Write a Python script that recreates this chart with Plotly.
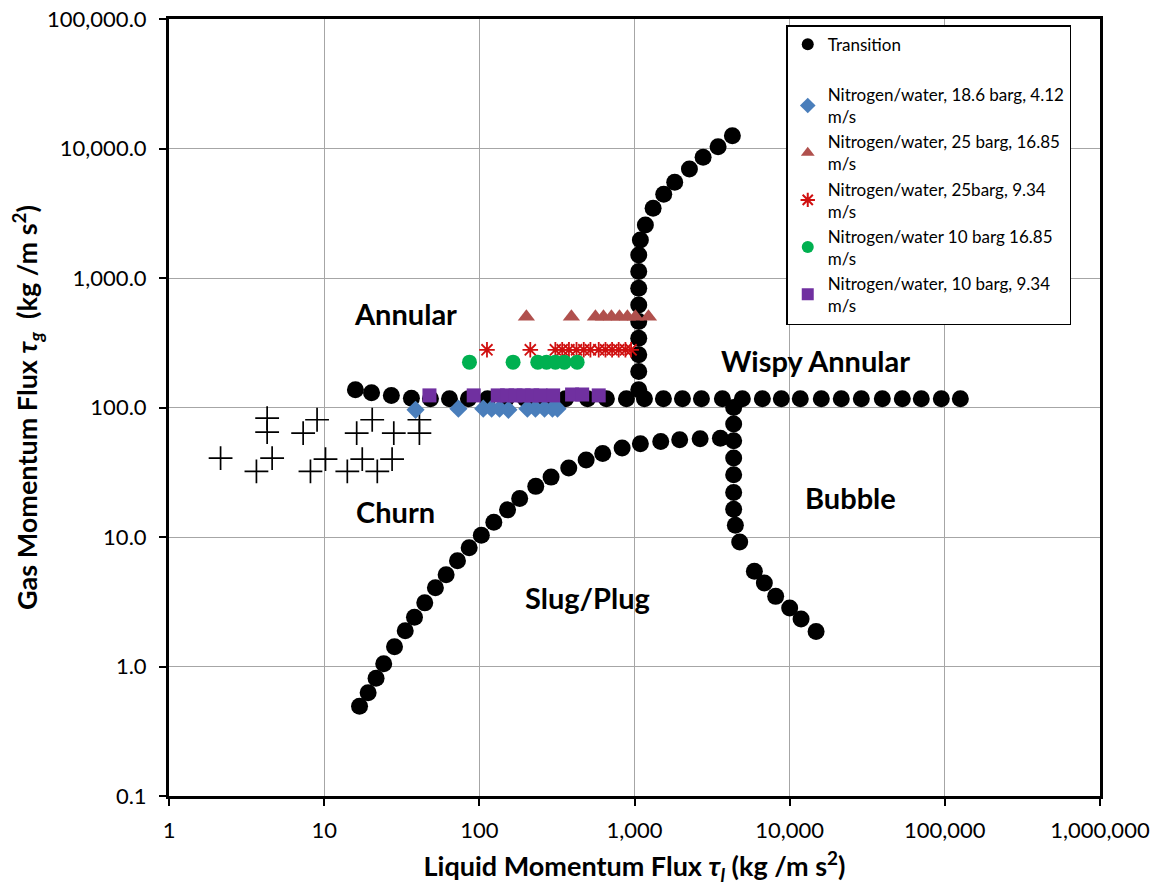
import math
import plotly.graph_objects as go

# ---------------- data ----------------
# Transition boundary points (liquid momentum flux, gas momentum flux)
trans_x = [
    # Annular / Churn / Wispy horizontal boundary
    15.9, 20.2, 27.1, 36.5, 48.4, 64.2, 85.1, 113, 149, 198, 267, 359, 498, 659, 887,
    1159, 1536, 2037, 2700, 3685, 4955, 6668, 8836, 11705, 15990, 21510, 28960, 39540,
    53200, 70500, 94900, 125900,
    # Annular / Wispy annular vertical boundary
    1065, 1065, 1065, 1065, 1065, 1065, 1065, 1065, 1065,
    1091, 1175, 1318, 1543, 1816, 2259, 2768, 3457, 4273,
    # Churn / Slug-Plug boundary
    16.9, 19.2, 21.6, 24.2, 28.4, 33.3, 38.2, 44.5, 52.1, 61.1, 72.3, 86.0, 103, 124,
    152, 182, 231, 290, 377, 488, 624, 832, 1091, 1476, 1955, 2648, 3578,
    # Slug-Plug / Bubble boundary
    4356, 4356, 4356, 4356, 4356, 4356, 4356, 4467, 4764, 5923, 6868, 8126, 10000,
    11845, 14800,
]
trans_y = [
    137, 130, 124, 118, 117, 117, 117, 117, 117, 117, 117, 117, 117, 117, 117,
    117, 117, 117, 117, 117, 117, 117, 117, 117, 117, 117, 117, 117,
    117, 117, 117, 117,
    137, 190, 255, 343, 461, 620, 834, 1121, 1508,
    1968, 2569, 3456, 4432, 5486, 6947, 8553, 10320, 12555,
    0.493, 0.626, 0.811, 1.05, 1.42, 1.89, 2.40, 3.10, 4.06, 5.12, 6.56, 8.27, 10.3, 13.0,
    16.2, 19.8, 24.6, 29.0, 34.1, 39.3, 44.2, 48.6, 52.5, 54.7, 56.3, 57.4, 57.9,
    100, 74.5, 55.3, 40.7, 30.2, 22.1, 16.4, 12.3, 9.15, 5.43, 4.42, 3.48, 2.83,
    2.33, 1.86,
]

# Churn data points (plus markers)
churn_x = [4.29, 4.29, 9.0, 7.32, 20.4, 16.2, 28.1, 41.1, 41.1,
           2.15, 3.66, 4.62, 8.16, 10.2, 14.1, 17.6, 22.0, 27.4]
churn_y = [82.8, 64.6, 80.4, 63.5, 80.4, 63.5, 63.5, 80.4, 63.5,
           40.7, 32.1, 40.7, 32.1, 40.0, 32.1, 40.0, 32.1, 40.0]

# Nitrogen/water, 18.6 barg, 4.12 m/s
n186_x = [38.8, 73.3, 106, 120, 135, 154, 204, 230, 263, 296, 319]
n186_y = [96, 98, 98, 98, 98, 96, 98, 98, 98, 98, 98]

# Nitrogen/water, 25 barg, 16.85 m/s
n25a_x = [201, 392, 560, 631, 710, 800, 900, 1014, 1230]
n25a_y = [501, 501, 501, 501, 501, 501, 501, 501, 501]

# Nitrogen/water, 25barg, 9.34 m/s
n25b_x = [112, 213, 309, 342, 378, 423, 471, 520, 588, 650, 717, 791, 874, 951]
n25b_y = [279, 279, 279, 279, 279, 279, 279, 279, 279, 279, 279, 279, 279, 279]

# Nitrogen/water 10 barg 16.85 m/s
n10a_x = [86.4, 165, 238, 271, 309, 353, 427]
n10a_y = [224, 224, 224, 224, 224, 224, 224]

# Nitrogen/water, 10 barg, 9.34 m/s
n10b_x = [47.7, 92, 131.4, 151, 171, 193, 219, 248, 299, 396, 460, 588]
n10b_y = [124, 124, 124, 124, 124, 124, 124, 124, 124, 126, 126, 124]

series_names = [
    "Transition",
    "Nitrogen/water, 18.6 barg, 4.12<br>m/s",
    "Nitrogen/water, 25 barg, 16.85<br>m/s",
    "Nitrogen/water, 25barg, 9.34<br>m/s",
    "Nitrogen/water 10 barg 16.85<br>m/s",
    "Nitrogen/water, 10 barg, 9.34<br>m/s",
]

x_tickvals = [1, 10, 100, 1000, 10000, 100000, 1000000]
x_ticktext = ["1", "10", "100", "1,000", "10,000", "100,000", "1,000,000"]
y_tickvals = [0.1, 1, 10, 100, 1000, 10000, 100000]
y_ticktext = ["0.1", "1.0", "10.0", "100.0", "1,000.0", "10,000.0", "100,000.0"]

region_labels = ["Annular", "Wispy Annular", "Churn", "Slug/Plug", "Bubble"]
region_x = [33.4, 14650, 28.8, 498, 24600]
region_y = [529, 229, 15.7, 3.40, 20.1]

# ---------------- figure ----------------
FONT = "Lato, 'Liberation Sans', Arial, sans-serif"

fig = go.Figure()

fig.add_trace(go.Scatter(
    x=trans_x, y=trans_y, mode="markers", name=series_names[0],
    marker=dict(symbol="circle", size=17, color="black"),
))
# blank legend entry (unnamed series)
fig.add_trace(go.Scatter(
    x=[None], y=[None], mode="markers", name=" ",
    marker=dict(size=1, color="rgba(0,0,0,0)"),
))
fig.add_trace(go.Scatter(
    x=churn_x, y=churn_y, mode="markers", showlegend=False,
    marker=dict(symbol="cross-thin-open", size=17, color="black",
                line=dict(color="black", width=1.7)),
))
fig.add_trace(go.Scatter(
    x=n186_x, y=n186_y, mode="markers", name=series_names[1],
    marker=dict(symbol="diamond", size=14, color="#4a7ebb"),
))
fig.add_trace(go.Scatter(
    x=n25a_x, y=n25a_y, mode="markers", name=series_names[2],
    marker=dict(symbol="triangle-up", size=15, color="#b0504d"),
))
fig.add_trace(go.Scatter(
    x=n25b_x, y=n25b_y, mode="markers", name=series_names[3],
    marker=dict(symbol="asterisk-open", size=13, color="#d01010",
                line=dict(color="#d01010", width=1.8)),
))
fig.add_trace(go.Scatter(
    x=n10a_x, y=n10a_y, mode="markers", name=series_names[4],
    marker=dict(symbol="circle", size=15, color="#00b050"),
))
fig.add_trace(go.Scatter(
    x=n10b_x, y=n10b_y, mode="markers", name=series_names[5],
    marker=dict(symbol="square", size=14, color="#7030a0"),
))

for t, xv, yv in zip(region_labels, region_x, region_y):
    fig.add_annotation(
        x=math.log10(xv), y=math.log10(yv), xref="x", yref="y",
        text="<b>" + t + "</b>", showarrow=False,
        font=dict(family=FONT, size=29, color="black"),
    )

axis_common = dict(
    type="log",
    showline=True, linecolor="black", linewidth=3, mirror=True,
    showgrid=True, gridcolor="#a6a6a6", gridwidth=1.3,
    ticks="outside", ticklen=7, tickcolor="black", tickwidth=1.5,
    zeroline=False,
    tickfont=dict(family=FONT, size=22, color="black"),
)

fig.update_xaxes(
    **axis_common, range=[0, 6],
    tickvals=x_tickvals, ticktext=x_ticktext, ticklabelstandoff=6,
    title=dict(text="<b>Liquid Momentum Flux <i>τ<sub>l</sub></i> (kg /m s<sup>2</sup>)</b>",
               font=dict(family=FONT, size=27, color="black"), standoff=20),
)
fig.update_yaxes(
    **axis_common, range=[-1, 5],
    tickvals=y_tickvals, ticktext=y_ticktext, ticklabelstandoff=8,
    title=dict(text="<b>Gas Momentum Flux <i>τ<sub>g</sub></i>  (kg /m s<sup>2</sup>)</b>",
               font=dict(family=FONT, size=27, color="black"), standoff=2),
)

fig.update_layout(
    width=1153, height=886,
    margin=dict(l=169, r=53, t=19, b=90, autoexpand=False),
    paper_bgcolor="white", plot_bgcolor="white",
    showlegend=True,
    legend=dict(
        x=0.663, y=0.992, xanchor="left", yanchor="top",
        bgcolor="white", bordercolor="black", borderwidth=1.5,
        font=dict(family=FONT, size=17, color="black"),
        itemsizing="constant", tracegroupgap=0,
    ),
    font=dict(family=FONT),
)

fig.write_html("out.html")
